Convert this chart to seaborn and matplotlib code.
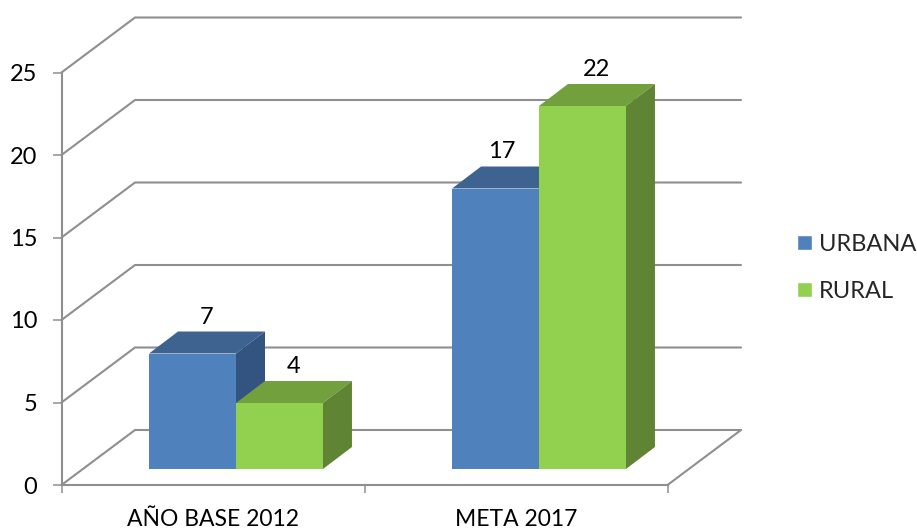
import pandas as pd
import matplotlib
matplotlib.use('Agg')
import matplotlib.pyplot as plt
import seaborn as sns
from matplotlib.patches import Polygon
from matplotlib.transforms import Affine2D, IdentityTransform

periodos = ['AÑO BASE 2012', 'META 2017']
zonas = ['URBANA', 'RURAL']
urbana = [7, 17]
rural = [4, 22]
y_ticks = [0, 5, 10, 15, 20, 25]

colores = {'URBANA': '#4F81BD', 'RURAL': '#92D050'}
tapas = {'URBANA': '#3F6390', 'RURAL': '#71A03C'}
lados = {'URBANA': '#335480', 'RURAL': '#5F8434'}
GRIS = '#8F8F8F'

# fake 3d, all offsets in pixels
PARED = (73.5, 55)
BARRA_OFF = (23, 16)
BARRA_FONDO = (29, 22)
# the 17 label sits left of the rural bar in the original
AJUSTE_ETIQUETA = {17: -8}

df = pd.DataFrame({
    'periodo': periodos * 2,
    'zona': [zonas[0]] * 2 + [zonas[1]] * 2,
    'valor': urbana + rural,
})

sns.set_style('white')
plt.rcParams['font.family'] = ['Lato', 'DejaVu Sans']

W, H = 917, 530
fig = plt.figure(figsize=(W / 100, H / 100), dpi=100)
ax = fig.add_axes([61.5 / W, (H - 485) / H, 606 / W, 412.5 / H])

sns.barplot(data=df, x='periodo', y='valor', hue='zona', palette=colores,
            width=0.574, gap=0, saturation=1, ax=ax)
ax.set_xlim(-0.5, 1.5)
ax.set_ylim(0, 25)
ax.set_xlabel('')
ax.set_ylabel('')
ax.set_yticks(y_ticks)
ax.set_xticks([-0.5, 0.5, 1.5], ['', '', ''])
ax.set_xticks([0, 1], periodos, minor=True)
ax.tick_params(axis='y', which='major', length=6.5, width=1.1, color=GRIS, left=True,
               pad=11, labelsize=17, labelcolor='black')
ax.tick_params(axis='x', which='major', length=5.5, width=1.1, color=GRIS, bottom=True)
ax.tick_params(axis='x', which='minor', length=0, pad=17.5, labelsize=16.5, labelcolor='black')
ax.patch.set_visible(False)
for lado in ['top', 'right']:
    ax.spines[lado].set_visible(False)
for lado in ['left', 'bottom']:
    ax.spines[lado].set_color(GRIS)
    ax.spines[lado].set_linewidth(1.5)

fig.canvas.draw()
pix = IdentityTransform()


def a_pixel(x, y):
    return ax.transData.transform((x, y))


# back wall and left wall lines
x_fin = a_pixel(1.5, 0)[0] + PARED[0]
for v in y_ticks:
    x0, y0 = a_pixel(-0.5, v)
    ax.plot([x0, x0 + PARED[0], x_fin], [y0, y0 + PARED[1], y0 + PARED[1]],
            transform=pix, color=GRIS, lw=1.5, clip_on=False, zorder=1,
            solid_joinstyle='miter')
# right edge of the floor
x0, y0 = a_pixel(1.5, 0)
ax.plot([x0, x0 + PARED[0]], [y0, y0 + PARED[1]], transform=pix, color=GRIS,
        lw=1.5, clip_on=False, zorder=1)

# bars: front from seaborn, top and side worked out from each patch
desplaza = Affine2D().translate(*BARRA_OFF)
dx, dy = BARRA_FONDO
for i, (zona, cont) in enumerate(zip(zonas, ax.containers)):
    for barra in cont:
        barra.set_transform(ax.transData + desplaza)
        barra.set_clip_on(False)
        barra.set_linewidth(0)
        barra.set_zorder(3 + i + 0.2)
        xa, ya = a_pixel(barra.get_x(), 0) + BARRA_OFF
        xb, yb = a_pixel(barra.get_x() + barra.get_width(), barra.get_height()) + BARRA_OFF
        tapa = [(xa, yb), (xb, yb), (xb + dx, yb + dy), (xa + dx, yb + dy)]
        costado = [(xb, ya), (xb + dx, ya + dy), (xb + dx, yb + dy), (xb, yb)]
        ax.add_patch(Polygon(tapa, closed=True, transform=pix, facecolor=tapas[zona],
                             lw=0, clip_on=False, zorder=3 + i))
        ax.add_patch(Polygon(costado, closed=True, transform=pix, facecolor=lados[zona],
                             lw=0, clip_on=False, zorder=3 + i))
        valor = int(barra.get_height())
        ax.annotate(str(valor),
                    xy=(barra.get_x() + barra.get_width() / 2, barra.get_height()),
                    xytext=(BARRA_OFF[0] + dx / 2 + AJUSTE_ETIQUETA.get(valor, 0), 46),
                    textcoords='offset pixels',
                    ha='center', va='baseline', fontsize=17, color='black', zorder=10)

sns.move_legend(ax, loc='center left', bbox_to_anchor=(776 / W, (H - 268) / H),
                bbox_transform=fig.transFigure, frameon=False, title=None,
                fontsize=17, handlelength=0.63, handleheight=0.63,
                handletextpad=0.3, labelspacing=1.1)

plt.savefig('out.png', dpi=100)
plt.close()
